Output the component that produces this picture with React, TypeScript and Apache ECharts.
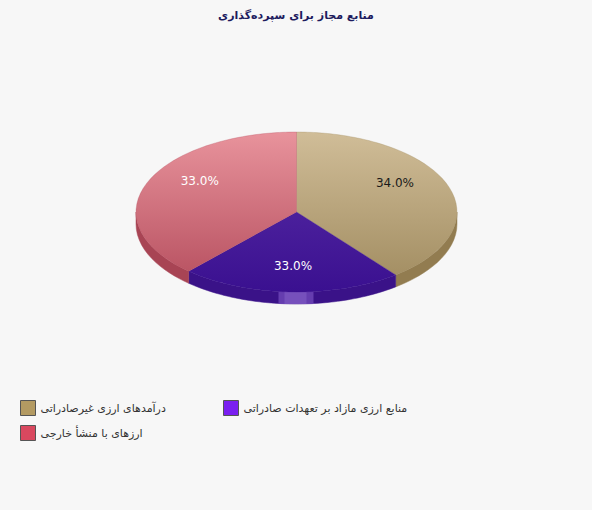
import React, { useEffect, useRef } from "react";
import * as echarts from "echarts";

const titleText = "منابع مجاز برای سپرده‌گذاری";
const categories = [
  "درآمدهای ارزی غیرصادراتی",
  "منابع ارزی مازاد بر تعهدات صادراتی",
  "ارزهای با منشأ خارجی",
];
const values = [34, 33, 33];

// styles
const legendColors = ["#b39a62", "#7a1ff0", "#d9485f"];
const topColors = [
  ["#d0bd98", "#9f8a5e"],
  ["#5c30a8", "#3a1090"],
  ["#e8939c", "#b44c5c"],
];
const sideColors = ["#927c50", "#3a1288", "#a84454"];
const labelColors = ["#1a1a1a", "#ffffff", "#ffffff"];

export default function App() {
  const ref = useRef<HTMLDivElement>(null);
  useEffect(() => {
    if (!ref.current) return;
    const chart = echarts.init(ref.current, null, { renderer: "svg" });
    const cx = 296.5, cy = 212, rx = 160.5, ry = 80, depth = 12;
    const total = values.reduce((a, b) => a + b, 0);
    const pt = (a: number, dd = 0) => {
      const dx = Math.sin(a), dy = -Math.cos(a);
      const r = 1 / Math.sqrt((dx / rx) ** 2 + (dy / ry) ** 2);
      return [cx + r * dx, cy + r * dy + dd];
    };
    const arc = (a0: number, a1: number, dd = 0) => {
      const n = Math.max(2, Math.ceil(((a1 - a0) / (Math.PI * 2)) * 180));
      const out: number[][] = [];
      for (let i = 0; i <= n; i++) out.push(pt(a0 + ((a1 - a0) * i) / n, dd));
      return out;
    };
    let cum = 0;
    const series = values.map((v, i) => {
      const s = cum / total;
      cum += v;
      const e = cum / total;
      return {
        type: "custom",
        name: categories[i],
        coordinateSystem: "none",
        itemStyle: { color: legendColors[i] },
        data: [[s, e, v]],
        renderItem: (params: any, api: any) => {
          const a0 = api.value(0) * Math.PI * 2;
          const a1 = api.value(1) * Math.PI * 2;
          const val = api.value(2);
          const children: any[] = [];
          const lo = Math.max(a0, Math.PI / 2);
          const hi = Math.min(a1, (Math.PI * 3) / 2);
          if (lo < hi) {
            const upper = arc(lo, hi);
            const lower = arc(lo, hi, depth).reverse();
            children.push({
              type: "polygon",
              z2: 1,
              shape: { points: upper.concat(lower) },
              style: { fill: sideColors[i], stroke: sideColors[i], lineWidth: 0.5 },
            });
            if (a0 < Math.PI && a1 > Math.PI) {
              children.push({
                type: "rect",
                z2: 2,
                shape: { x: cx - 18, y: cy + ry - 1, width: 35, height: depth + 1 },
                style: { fill: "#6a42b4", opacity: 0.9 },
              });
              children.push({
                type: "rect",
                z2: 3,
                shape: { x: cx - 12, y: cy + ry - 1, width: 22, height: depth + 1 },
                style: { fill: "#7650bc" },
              });
            }
          }
          children.push({
            type: "polygon",
            z2: 10,
            shape: { points: [[cx, cy]].concat(arc(a0, a1)) },
            style: {
              fill: new echarts.graphic.LinearGradient(
                0, cy - ry, 0, cy + ry,
                [
                  { offset: 0, color: topColors[i][0] },
                  { offset: 1, color: topColors[i][1] },
                ],
                true
              ),
              stroke: topColors[i][1],
              lineWidth: 0.3,
            },
          });
          const mid = (a0 + a1) / 2;
          const k = 0.7;
          children.push({
            type: "text",
            z2: 20,
            x: cx + rx * k * Math.sin(mid),
            y: cy - ry * k * Math.cos(mid) - 2,
            style: {
              text: ((val / total) * 100).toFixed(1) + "%",
              fill: labelColors[i],
              font: '12px "DejaVu Sans"',
              align: "center",
              verticalAlign: "middle",
            },
          });
          return { type: "group", children };
        },
      };
    });
    const legendBase = {
      orient: "horizontal",
      itemWidth: 15,
      itemHeight: 15,
      icon: "rect",
      itemGap: 8,
      padding: 0,
      itemStyle: { borderColor: "#555555", borderWidth: 1 },
      textStyle: { fontSize: 11, color: "#333333", fontFamily: "DejaVu Sans" },
      selectedMode: false,
    };
    chart.setOption({
      animation: false,
      backgroundColor: "#f7f7f7",
      title: {
        text: titleText,
        left: "center",
        top: 10,
        padding: 0,
        textStyle: {
          fontSize: 11,
          fontWeight: "bold",
          color: "#1d1b5e",
          fontFamily: "DejaVu Sans",
        },
      },
      legend: [
        { ...legendBase, left: 20, top: 400, data: [categories[0]] },
        { ...legendBase, left: 223, top: 400, data: [categories[1]] },
        { ...legendBase, left: 20, top: 425, data: [categories[2]] },
      ],
      series,
    });
    return () => chart.dispose();
  }, []);
  return (
    <div
      ref={ref}
      style={{ position: "fixed", left: 0, top: 0, width: 592, height: 510 }}
    />
  );
}
